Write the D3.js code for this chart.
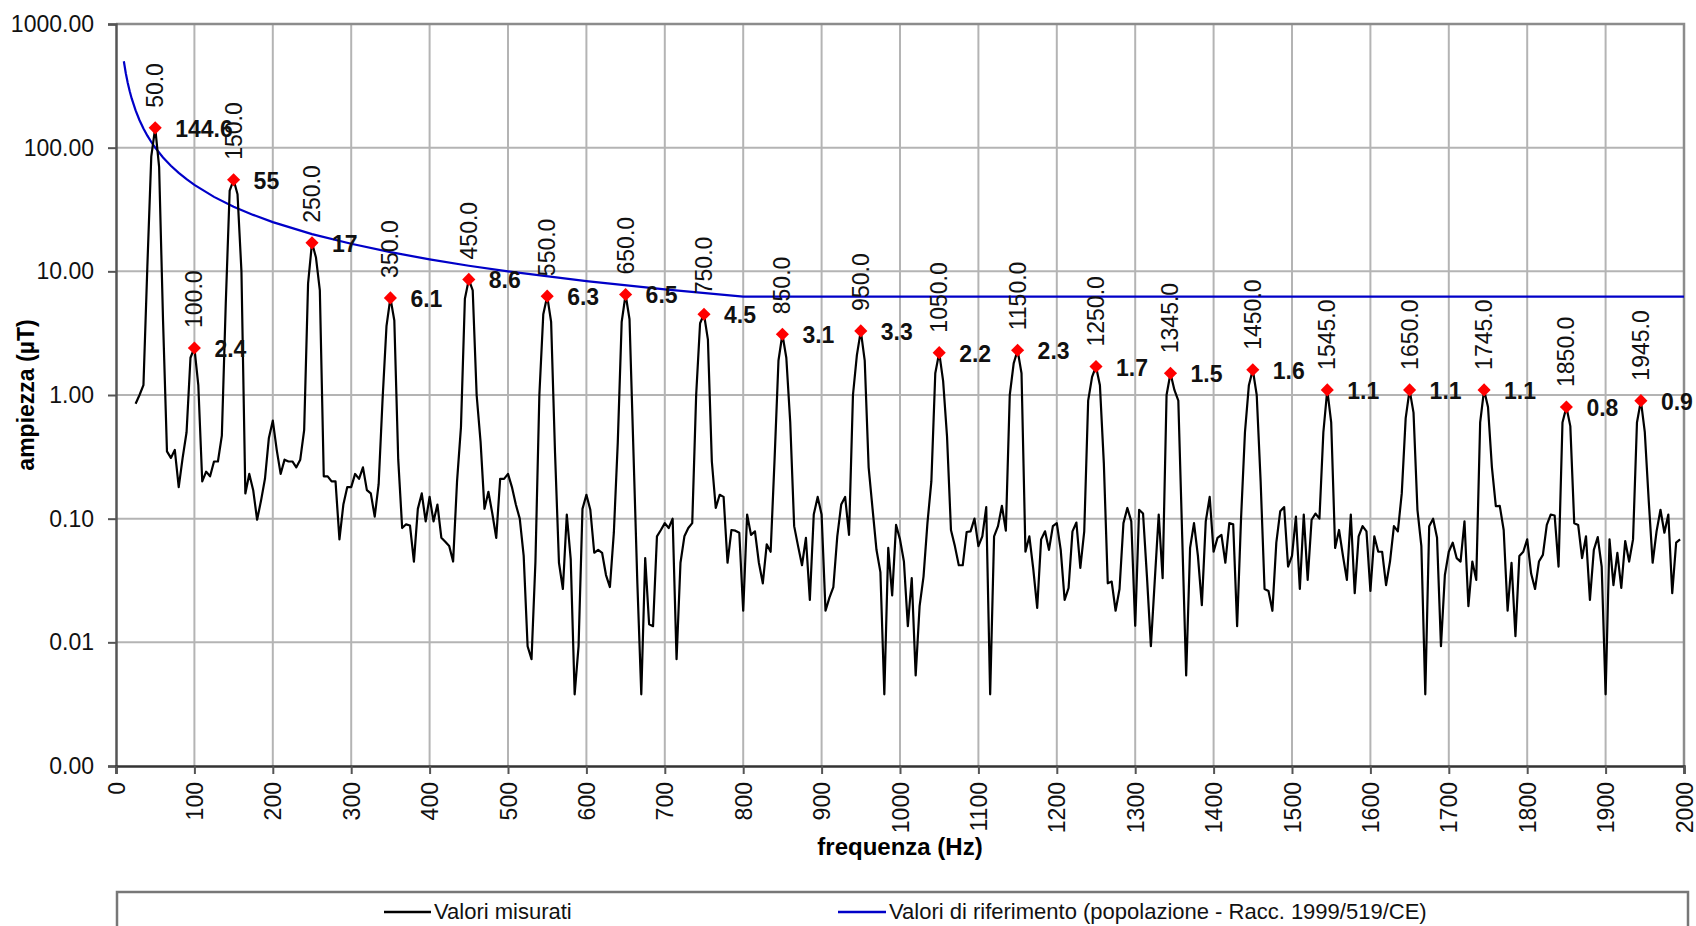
<!DOCTYPE html>
<html><head><meta charset="utf-8">
<script src="https://cdn.jsdelivr.net/npm/d3@7"></script>
<style>
html,body{margin:0;padding:0;background:#fff;}
svg{display:block;font-family:"Liberation Sans",Arial,sans-serif;}
</style>
</head><body>
<svg id="chart" width="1696" height="926"></svg>
<script>
// ---- DATA ----
// measured spectrum: sampled every 5 Hz starting at 25 Hz
const measuredStartHz = 25;
const measuredStepHz = 5;
const measuredValues = [
  0.85,1.0,1.2,11,85,144.6,70,4,0.35,0.31,0.36,0.18,0.31,0.5,2.0,
  2.4,1.2,0.2,0.24,0.22,0.29,0.29,0.47,5.5,45,55,42,10,0.16,0.23,0.17,0.098,0.14,0.21,0.45,
  0.62,0.36,0.23,0.30,0.29,0.29,0.26,0.30,0.52,8,17,13,7,0.22,0.22,0.20,0.20,0.068,0.13,0.18,
  0.18,0.23,0.21,0.26,0.17,0.16,0.104,0.19,0.92,3.6,6.1,4.0,0.3,0.084,0.09,0.088,0.045,0.12,0.16,0.095,
  0.15,0.095,0.13,0.07,0.065,0.06,0.045,0.2,0.55,6,8.6,7,1.0,0.42,0.12,0.165,0.11,0.07,0.21,0.21,
  0.23,0.18,0.13,0.1,0.05,0.0093,0.0073,0.045,1.0,4.5,6.3,3.9,0.34,0.044,0.027,0.108,0.047,0.0038,0.0093,0.12,
  0.156,0.118,0.053,0.056,0.053,0.035,0.028,0.077,0.41,3.9,6.5,4.1,0.35,0.03,0.0038,0.048,0.014,0.0135,0.072,0.081,
  0.092,0.084,0.1,0.0073,0.044,0.072,0.084,0.092,1.0,3.8,4.5,2.8,0.29,0.122,0.156,0.15,0.044,0.081,0.08,0.077,
  0.018,0.108,0.074,0.079,0.044,0.03,0.062,0.054,0.3,1.9,3.1,2.0,0.6,0.087,0.06,0.042,0.07,0.022,0.108,0.15,
  0.108,0.018,0.023,0.028,0.072,0.13,0.15,0.074,1.0,2.1,3.3,1.9,0.26,0.12,0.056,0.037,0.0038,0.058,0.024,0.089,
  0.068,0.045,0.0135,0.033,0.0054,0.0196,0.034,0.092,0.2,1.5,2.2,1.3,0.46,0.081,0.06,0.042,0.042,0.078,0.079,0.1,
  0.06,0.072,0.124,0.0038,0.072,0.087,0.127,0.08,1.0,1.8,2.3,1.5,0.054,0.072,0.039,0.019,0.068,0.079,0.056,0.087,
  0.092,0.056,0.022,0.0275,0.079,0.093,0.04,0.079,0.9,1.4,1.7,1.2,0.28,0.03,0.031,0.018,0.027,0.092,0.122,0.095,
  0.0136,0.118,0.11,0.034,0.0093,0.032,0.108,0.033,1.0,1.5,1.1,0.9,0.07,0.0054,0.058,0.092,0.05,0.02,0.095,0.15,
  0.054,0.07,0.074,0.044,0.092,0.09,0.0135,0.1,0.5,1.2,1.6,1.0,0.2,0.027,0.026,0.018,0.064,0.115,0.124,0.041,
  0.05,0.104,0.027,0.108,0.032,0.098,0.11,0.1,0.5,1.1,0.6,0.058,0.081,0.05,0.032,0.108,0.025,0.072,0.087,0.079,
  0.026,0.072,0.054,0.054,0.029,0.045,0.087,0.079,0.16,0.65,1.1,0.72,0.118,0.06,0.0038,0.087,0.1,0.07,0.0093,0.035,
  0.054,0.064,0.048,0.045,0.095,0.0196,0.045,0.032,0.6,1.1,0.8,0.26,0.126,0.127,0.081,0.018,0.044,0.0112,0.05,0.054,
  0.068,0.036,0.027,0.045,0.051,0.089,0.108,0.106,0.041,0.6,0.8,0.56,0.092,0.089,0.048,0.072,0.022,0.056,0.071,0.041,
  0.0038,0.068,0.029,0.053,0.0275,0.066,0.045,0.068,0.6,0.9,0.5,0.14,0.044,0.079,0.118,0.077,0.108,0.025,0.064,0.068
];
// reference levels (Racc. 1999/519/CE, population)
const refHz = [10,12.5,15,17.5,20,25,30,35,40,45,50,60,70,80,90,100,125,150,175,200,250,300,350,400,450,500,600,700,800,2000];
const refValues = [500,400,333.3,285.7,250,200,166.7,142.9,125,111.1,100,83.3,71.4,62.5,55.6,50,40,33.3,28.6,25,20,16.7,14.3,12.5,11.1,10,8.33,7.14,6.25,6.25];
// highlighted peaks
const peakHz = [50,100,150,250,350,450,550,650,750,850,950,1050,1150,1250,1345,1450,1545,1650,1745,1850,1945];
const peakValues = [144.6,2.4,55,17,6.1,8.6,6.3,6.5,4.5,3.1,3.3,2.2,2.3,1.7,1.5,1.6,1.1,1.1,1.1,0.8,0.9];
const peakValueLabels = ["144.6","2.4","55","17","6.1","8.6","6.3","6.5","4.5","3.1","3.3","2.2","2.3","1.7","1.5","1.6","1.1","1.1","1.1","0.8","0.9"];
// axes
const yTickValues = [0.001,0.01,0.1,1,10,100,1000];
const xTickValues = [0,100,200,300,400,500,600,700,800,900,1000,1100,1200,1300,1400,1500,1600,1700,1800,1900,2000];
const xTitle = "frequenza (Hz)";
const yTitle = "ampiezza (µT)";
const legendLabels = ["Valori misurati","Valori di riferimento (popolazione - Racc. 1999/519/CE)"];

// ---- DRAW ----
const svg = d3.select("#chart");
const L = 116, R = 1684, T = 24, B = 766;
const x = d3.scaleLinear().domain([0,2000]).range([L,R]);
const y = d3.scaleLog().domain([0.001,1000]).range([B,T]);

svg.append("rect").attr("width",1696).attr("height",926).attr("fill","#fff");

const measured = measuredValues.map((v,i)=>({f: measuredStartHz + i*measuredStepHz, v}));
const ref = refHz.map((f,i)=>({f, v: refValues[i]}));
const peaks = peakHz.map((f,i)=>({f, v: peakValues[i], lab: peakValueLabels[i]}));

// gridlines
const grid = svg.append("g");
grid.selectAll("line.v").data(xTickValues.slice(1,-1)).join("line")
  .attr("x1",d=>x(d)).attr("x2",d=>x(d)).attr("y1",T).attr("y2",B)
  .attr("stroke","#b4b4b4").attr("stroke-width",2);
grid.selectAll("line.h").data(yTickValues.slice(1,-1)).join("line")
  .attr("x1",L).attr("x2",R).attr("y1",d=>y(d)).attr("y2",d=>y(d))
  .attr("stroke","#b4b4b4").attr("stroke-width",2);
// frame top/right
svg.append("path").attr("d",`M${L},${T}H${R}V${B}`).attr("fill","none")
  .attr("stroke","#8c8c8c").attr("stroke-width",2.5);

// axes
const yAxis = d3.axisLeft(y).tickValues(yTickValues).tickFormat(d3.format(".2f")).tickSize(8).tickPadding(14);
const gy = svg.append("g").attr("transform",`translate(${L},0)`).call(yAxis);
gy.select(".domain").attr("stroke","#555").attr("stroke-width",2.5);
gy.selectAll(".tick line").attr("stroke","#555").attr("stroke-width",2);
gy.selectAll(".tick text").attr("font-size",23).attr("fill","#111").attr("font-family","Liberation Sans, Arial, sans-serif");

const xAxis = d3.axisBottom(x).tickValues(xTickValues).tickFormat(d3.format("d")).tickSize(8);
const gx = svg.append("g").attr("transform",`translate(0,${B})`).call(xAxis);
gx.select(".domain").attr("stroke","#333").attr("stroke-width",2.5);
gx.selectAll(".tick line").attr("stroke","#555").attr("stroke-width",2);
gx.selectAll(".tick text")
  .attr("font-size",23).attr("fill","#111").attr("font-family","Liberation Sans, Arial, sans-serif")
  .attr("text-anchor","end").attr("dy",null).attr("y",0).attr("x",0)
  .attr("dominant-baseline","central")
  .attr("transform","translate(0,16) rotate(-90)");

// axis titles
svg.append("text").attr("x",(L+R)/2).attr("y",846).attr("text-anchor","middle")
  .attr("dominant-baseline","central").attr("font-weight","bold").attr("font-size",24).text(xTitle);
svg.append("text").attr("transform",`translate(26,${(T+B)/2}) rotate(-90)`).attr("text-anchor","middle")
  .attr("dominant-baseline","central").attr("font-weight","bold").attr("font-size",23).text(yTitle);

// lines
const line = d3.line().x(d=>x(d.f)).y(d=>y(d.v));
svg.append("path").datum(ref).attr("d",line).attr("fill","none").attr("stroke","#0000c8").attr("stroke-width",2.2);
svg.append("path").datum(measured).attr("d",line).attr("fill","none").attr("stroke","#000").attr("stroke-width",2.2).attr("stroke-linejoin","round");

// peak markers and labels
const diamond = d3.symbol().type(d3.symbolDiamond2).size(110);
const pg = svg.append("g");
pg.selectAll("path").data(peaks).join("path")
  .attr("d",diamond).attr("transform",d=>`translate(${x(d.f)},${y(d.v)})`).attr("fill","#ff0000");
pg.selectAll("text.f").data(peaks).join("text").attr("class","f")
  .attr("transform",d=>`translate(${x(d.f)},${y(d.v)-20}) rotate(-90)`)
  .attr("text-anchor","start").attr("dominant-baseline","central").attr("font-size",23).attr("fill","#111")
  .text(d=>d3.format(".1f")(d.f));
pg.selectAll("text.v").data(peaks).join("text").attr("class","v")
  .attr("x",d=>x(d.f)+20).attr("y",d=>y(d.v)+1)
  .attr("text-anchor","start").attr("dominant-baseline","central").attr("font-size",23).attr("font-weight","bold").attr("fill","#111")
  .text(d=>d.lab);

// legend
const lg = svg.append("g");
lg.append("rect").attr("x",117).attr("y",892).attr("width",1571).attr("height",60)
  .attr("fill","#fff").attr("stroke","#777").attr("stroke-width",2.5);
const items = [{x0:384,x1:431,color:"#000",label:legendLabels[0]},{x0:838,x1:886,color:"#0000c8",label:legendLabels[1]}];
items.forEach(it=>{
  lg.append("line").attr("x1",it.x0).attr("x2",it.x1).attr("y1",912).attr("y2",912).attr("stroke",it.color).attr("stroke-width",2.5);
  lg.append("text").attr("x",it.x1+3).attr("y",911).attr("dominant-baseline","central").attr("font-size",22).attr("fill","#111").text(it.label);
});
</script>
</body></html>
